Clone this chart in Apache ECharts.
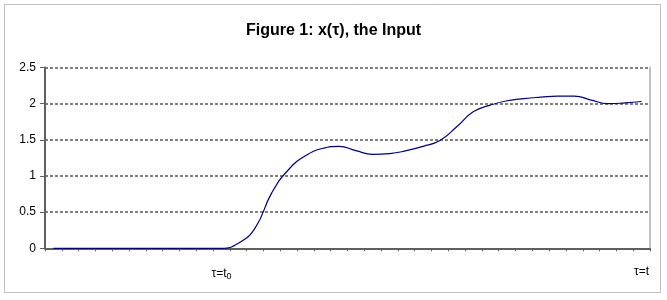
<!DOCTYPE html>
<html>
<head>
<meta charset="utf-8">
<script src="https://cdn.jsdelivr.net/npm/echarts@6/dist/echarts.min.js"></script>
<style>html,body{margin:0;padding:0;background:#fff}#c{width:667px;height:300px}</style>
</head>
<body>
<div id="c"></div>
<script>
// Category positions (36 samples of tau)
var categories = [];
for (var i = 0; i < 36; i++) categories.push(String(i));
// Tick labels shown under categories
var tickLabels = ['', '', '', '', '', '', '', '', '', '', 'τ=t0', '', '', '', '', '', '', '', '', '', '', '', '', '', '', '', '', '', '', '', '', '', '', '', '', 'τ=t'];
// x(tau) values
var xValues = [0, 0, 0, 0, 0, 0, 0, 0, 0, 0, 0,
  0.07, 0.28, 0.77, 1.09, 1.28, 1.38, 1.41, 1.35, 1.30, 1.31, 1.35, 1.41,
  1.49, 1.68, 1.89, 1.98, 2.04, 2.07, 2.09, 2.105, 2.105, 2.05, 2.00, 2.01, 2.03];
var yTicks = [0, 0.5, 1, 1.5, 2, 2.5];

var chart = echarts.init(document.getElementById('c'), null, {renderer: 'canvas'});
var font = 'Arial, "Liberation Sans", sans-serif';
chart.setOption({
  animation: false,
  backgroundColor: '#fff',
  title: {
    text: 'Figure 1: x(τ), the Input',
    left: 'center',
    top: 18,
    textStyle: {fontFamily: font, fontSize: 16, fontWeight: 'bold', color: '#000'}
  },
  grid: {left: 45, right: 17, top: 67.5, bottom: 51.7, containLabel: false},
  xAxis: {
    type: 'category',
    data: categories,
    boundaryGap: true,
    axisLine: {lineStyle: {color: '#606060', width: 2}},
    axisTick: {show: true, interval: 0, length: 3, lineStyle: {color: '#606060', width: 1}},
    axisLabel: {
      interval: 0,
      margin: 17,
      fontFamily: font,
      fontSize: 12,
      color: '#000',
      formatter: function (v, idx) {
        var t = tickLabels[idx];
        if (t === 'τ=t0') return '{m|τ=t}{s|0}';
        return t ? '{m|' + t + '}' : '';
      },
      rich: {
        m: {fontFamily: font, fontSize: 12, color: '#000'},
        s: {fontFamily: font, fontSize: 9, color: '#000', padding: [7, 0, 0, 0]}
      }
    },
    splitLine: {show: false}
  },
  yAxis: [{
    type: 'value',
    min: yTicks[0],
    max: yTicks[yTicks.length - 1],
    interval: 0.5,
    axisLine: {show: true, lineStyle: {color: '#606060', width: 2}},
    axisTick: {show: true, length: 5, lineStyle: {color: '#606060', width: 1}},
    axisLabel: {margin: 9, fontFamily: font, fontSize: 12, color: '#000'},
    splitLine: {show: true, lineStyle: {color: '#808080', width: 2, type: [3, 2]}}
  }, {
    type: 'value',
    position: 'right',
    min: yTicks[0],
    max: yTicks[yTicks.length - 1],
    interval: 0.5,
    axisLine: {show: true, lineStyle: {color: '#c0c0c0', width: 2}},
    axisTick: {show: false},
    axisLabel: {show: false},
    splitLine: {show: false}
  }],
  graphic: [{
    type: 'rect',
    shape: {x: 4.5, y: 4.5, width: 656, height: 288},
    style: {fill: 'none', stroke: '#808080', lineWidth: 1, lineDash: [1, 1]},
    silent: true
  }],
  series: [{
    type: 'line',
    data: xValues,
    smooth: 0.5,
    symbol: 'none',
    lineStyle: {color: '#000080', width: 1.2},
    z: 5
  }]
});
</script>
</body>
</html>
